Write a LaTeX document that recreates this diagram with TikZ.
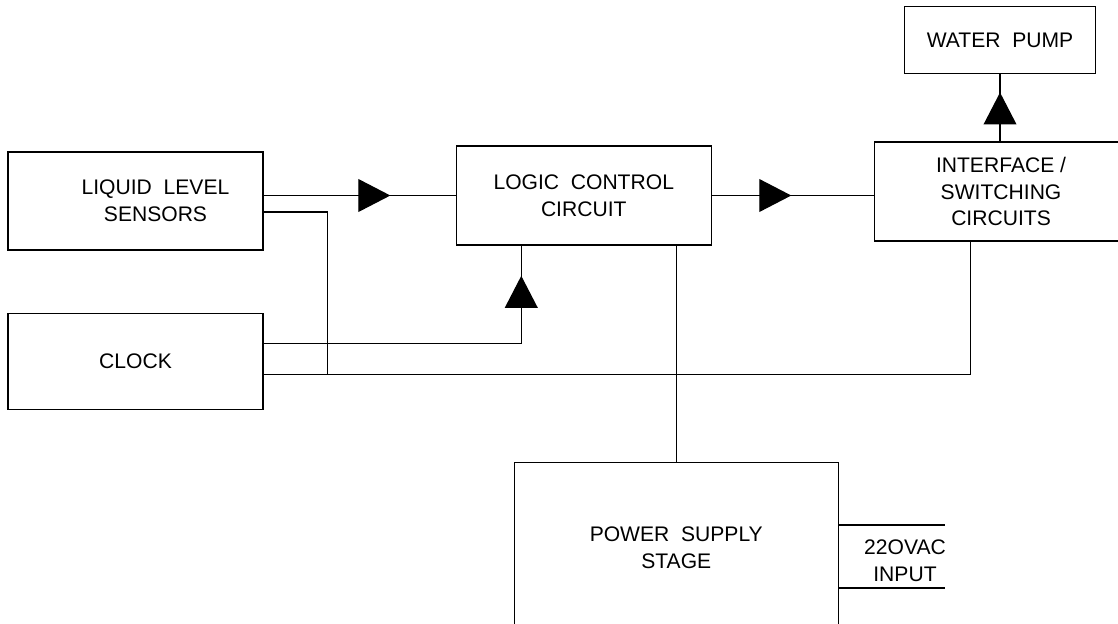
\documentclass[tikz,border=0pt]{standalone}
\usepackage{fontspec}
\setmainfont{Liberation Sans}
\usetikzlibrary{arrows.meta,positioning,decorations.markings}

\begin{document}
\begin{tikzpicture}[
   node distance=1.55cm and 4.8cm,
   every node/.style={font=\fontsize{15pt}{19pt}\selectfont},
   block/.style={draw, line width=0.9pt, align=center, inner sep=0pt,
      minimum width=6.375cm, minimum height=2.45cm},
   wire/.style={line width=0.9pt},
   midarrow/.style={postaction={decorate}, decoration={markings,
      mark=at position #1 with {\arrow{Triangle[length=8mm,width=8.2mm]}}}}
]
\useasboundingbox (0,0) rectangle (27.95,-15.575);

\node[block] (sens) at (3.3875,-5.025)
   {\hspace*{1cm}LIQUID~~LEVEL\\\hspace*{1cm}SENSORS};
\node[block, minimum height=2.4cm, below=of sens] (clock) {CLOCK};
\node[block, minimum height=2.475cm, right=of sens, yshift=0.1375cm] (logic)
   {LOGIC~~CONTROL\\CIRCUIT};
\node[block, minimum width=6.125cm, minimum height=2.475cm,
   right=4.05cm of logic, yshift=0.1cm] (iface)
   {\hspace*{0.2cm}INTERFACE /\\\hspace*{0.2cm}SWITCHING\\\hspace*{0.2cm}CIRCUITS};
\node[block, minimum width=4.775cm, minimum height=1.675cm,
   above=1.675cm of iface, xshift=0.075cm] (pump) {WATER~~PUMP};
\node[block, minimum width=8.1cm, minimum height=4.275cm,
   below=5.4cm of logic, xshift=2.3125cm] (power) {POWER~~SUPPLY\\STAGE};
\node[align=center] (acin) at (22.625,-14.0125) {22OVAC\\INPUT};
\coordinate (ac1) at (23.625,-13.125);
\coordinate (ac2) at (23.625,-14.7);

% signal paths
\draw[wire, midarrow=0.66] (sens.east |- logic.west) -- (logic.west);
\draw[wire, midarrow=0.49] (logic.east) -- (logic.east -| iface.west);
\draw[wire, midarrow=0.73] (pump.south |- iface.north) -- (pump.south);
\draw[wire, midarrow=0.915] ([yshift=0.45cm]clock.east)
   -| ([xshift=-1.5625cm]logic.south);

% supply lines
\draw[wire] ([yshift=-0.325cm]clock.east) -| ([xshift=-0.6625cm]iface.south);
\draw[wire] ([yshift=-0.275cm]sens.east)
   -| ([yshift=-0.325cm, xshift=1.6cm]clock.east);
\draw[wire] (power.north) -- (power.north |- logic.south);
\draw[wire] (power.east |- ac1) -- (ac1);
\draw[wire] (power.east |- ac2) -- (ac2);
\end{tikzpicture}
\end{document}
